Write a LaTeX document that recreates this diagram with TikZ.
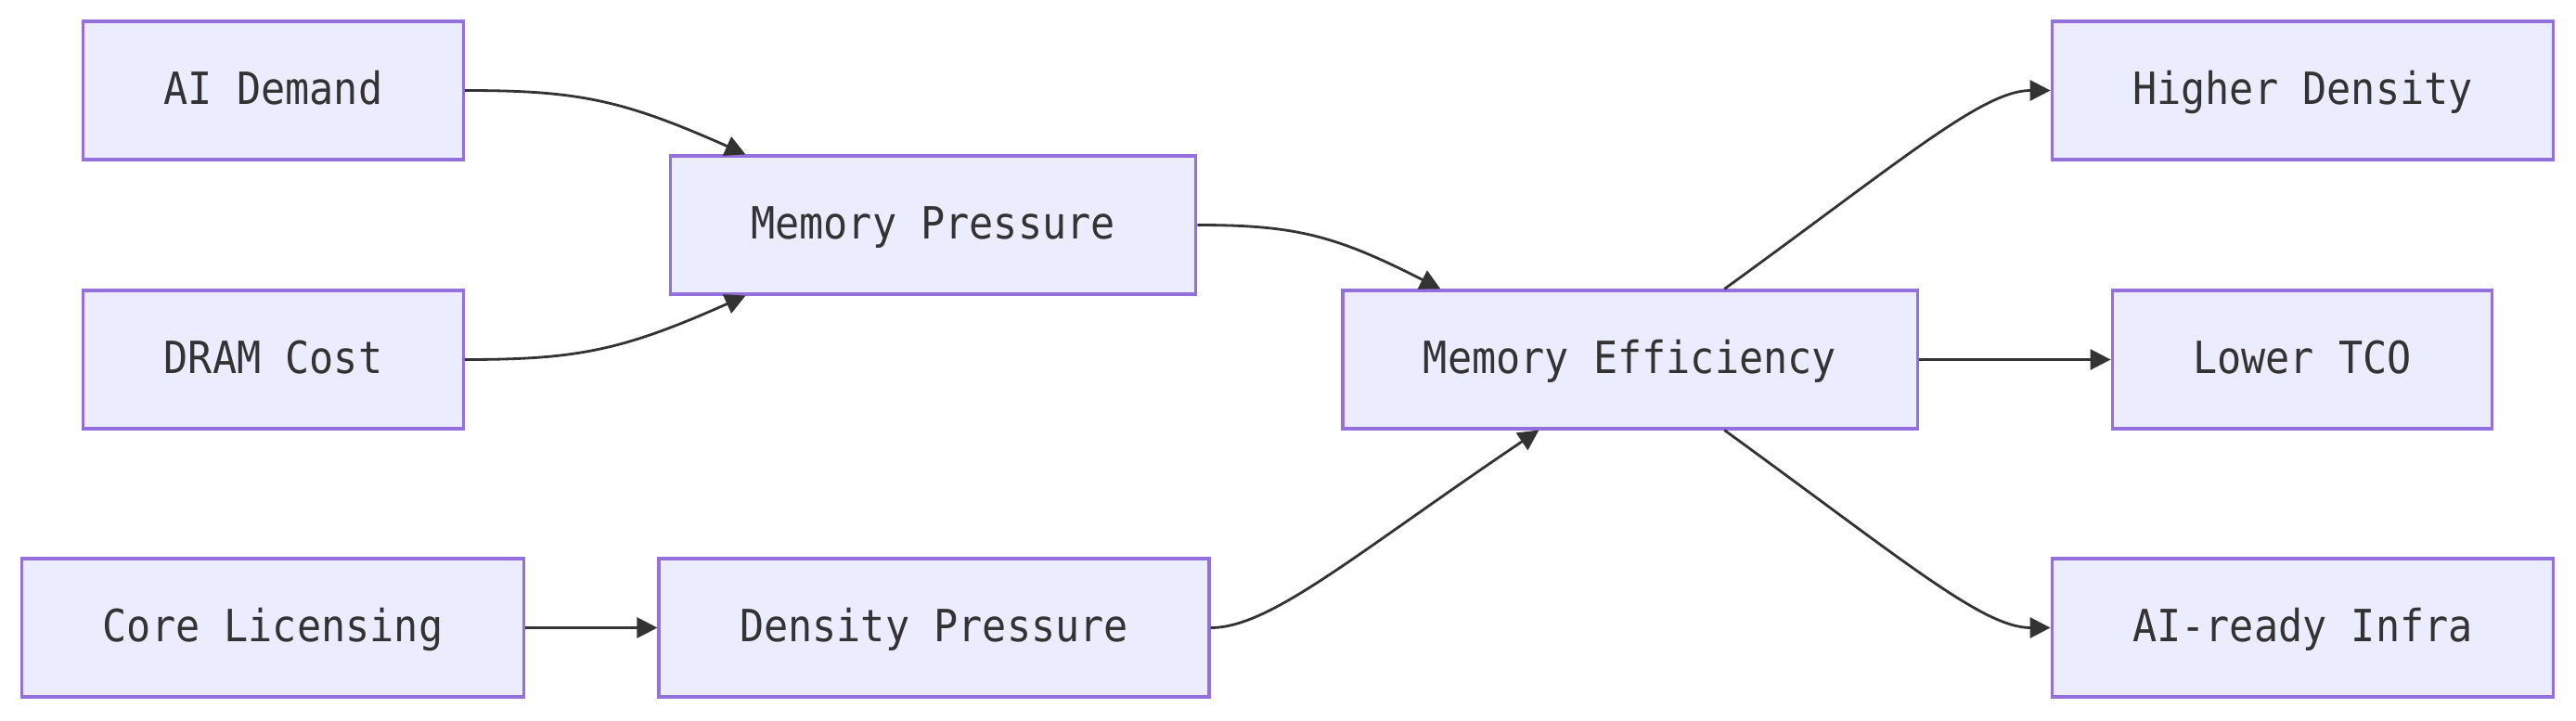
\documentclass[tikz,border=0pt]{standalone}
\usepackage{fontspec}
\setmonofont[FakeStretch=0.91]{DejaVu Sans Mono}
\usetikzlibrary{arrows.meta,positioning}
\definecolor{boxfill}{HTML}{ECECFF}
\definecolor{boxline}{HTML}{9370DB}
\definecolor{ink}{HTML}{333333}

\begin{document}
\begin{tikzpicture}

\def\boxheight{1.49cm}
\def\boxpad{0.87cm}

\tikzset{line/.style={draw=ink,line width=0.8pt}}
\tikzset{arrow/.style={line,-{Triangle[length=0.22cm,width=0.22cm]}}}
\tikzset{box/.style={rectangle,draw=boxline,line width=0.9pt,fill=boxfill,text=ink,inner xsep=\boxpad,inner ysep=0pt,minimum height=\boxheight,text height=10pt,text depth=1.7pt,font=\ttfamily\fontsize{13.6}{16}\selectfont}}

\useasboundingbox (0,0) rectangle (27.76,7.76);

% left column
\node[box] (aidemand) at (2.945,6.785) {AI Demand};
\node[box] (dramcost) at (2.945,3.885) {DRAM Cost};
\node[box] (corelic) at (2.94,0.995) {Core Licensing};

% pressures
\node[box] (mempressure) at (10.055,5.335) {Memory Pressure};
\node[box] (denspressure) at (10.065,0.995) {Density Pressure};

% hub
\node[box] (memeff) at (17.565,3.885) {Memory Efficiency};

% outcomes
\node[box] (higherdens) at (24.815,6.785) {Higher Density};
\node[box] (lowertco) at (24.81,3.885) {Lower TCO};
\node[box] (aiready) at (24.815,0.995) {AI-ready Infra};

\draw[arrow] (aidemand.east) to[out=0,in=156,out looseness=1,in looseness=1.2] ([xshift=0.83cm]mempressure.north west);
\draw[arrow] (dramcost.east) to[out=0,in=204,out looseness=1,in looseness=1.2] ([xshift=0.83cm]mempressure.south west);
\draw[arrow] (mempressure.east) to[out=0,in=153,out looseness=1,in looseness=1.2] ([xshift=1.07cm]memeff.north west);
\draw[arrow] (corelic.east) -- (denspressure.west);
\draw[arrow] (denspressure.east) to[out=0,in=214,out looseness=0.4,in looseness=1.5] ([xshift=2.13cm]memeff.south west);

\draw[arrow] ([xshift=4.13cm]memeff.north west) to[out=36,in=180,out looseness=1.5,in looseness=0.45] (higherdens.west);
\draw[arrow] (memeff.east) -- (lowertco.west);
\draw[arrow] ([xshift=4.13cm]memeff.south west) to[out=-36,in=180,out looseness=1.5,in looseness=0.45] (aiready.west);

\end{tikzpicture}
\end{document}
